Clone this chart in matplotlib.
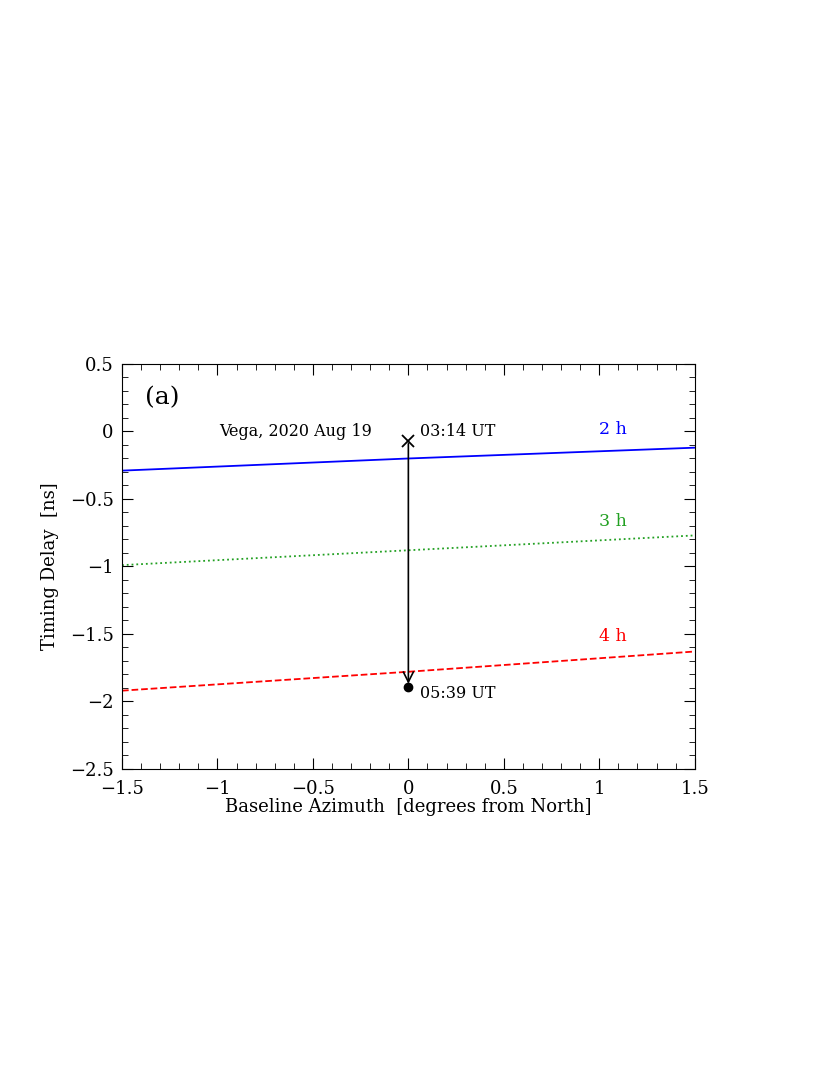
import numpy as np
import matplotlib
matplotlib.use("Agg")
import matplotlib.pyplot as plt
from matplotlib.ticker import MultipleLocator

plt.rcParams['font.family'] = ['DejaVu Serif']

# azimuth in degrees, delay in ns
azimuth = [-1.5, 0.0, 1.5]
delay_2h = [-0.29, -0.20, -0.12]
delay_3h = [-0.99, -0.88, -0.77]
delay_4h = [-1.92, -1.78, -1.63]
start_delay = -0.07
end_delay = -1.89

fig = plt.figure(figsize=(8.3, 10.75), dpi=100)
ax = fig.add_axes([0.147, 0.2847, 0.690, 0.3767])

ax.plot(azimuth, delay_2h, color='blue', lw=1.3)
ax.plot(azimuth, delay_3h, color='#22a022', lw=1.3, ls=':')
ax.plot(azimuth, delay_4h, color='red', lw=1.3, ls='--')

ax.text(1.0, -0.02, '2 h', color='blue', fontsize=12.5)
ax.text(1.0, -0.70, '3 h', color='#22a022', fontsize=12.5)
ax.text(1.0, -1.55, '4 h', color='red', fontsize=12.5)

ax.annotate('', xy=(0, end_delay), xytext=(0, start_delay),
            arrowprops=dict(arrowstyle='->', color='black', lw=1.2,
                            mutation_scale=18))
ax.plot([0], [start_delay], marker='x', color='black', ms=8, mew=1.3)
ax.plot([0], [end_delay], marker='o', color='black', ms=6)
ax.text(-0.99, -0.0, 'Vega, 2020 Aug 19', fontsize=11.5, va='center')
ax.text(0.06, -0.0, '03:14 UT', fontsize=11.5, va='center')
ax.text(0.06, -1.94, '05:39 UT', fontsize=11.5, va='center')
ax.text(-1.38, 0.2, '(a)', fontsize=18)

ax.set_xlim(-1.5, 1.5)
ax.set_ylim(-2.5, 0.5)
ax.xaxis.set_major_locator(MultipleLocator(0.5))
ax.xaxis.set_minor_locator(MultipleLocator(0.1))
ax.yaxis.set_major_locator(MultipleLocator(0.5))
ax.yaxis.set_minor_locator(MultipleLocator(0.1))
ax.tick_params(which='both', direction='in', top=True, right=True, labelsize=13)
ax.tick_params(which='major', length=8)
ax.tick_params(which='minor', length=4)
ax.tick_params(axis='x', pad=8)
ax.tick_params(axis='y', pad=6)
ax.xaxis.set_major_formatter(plt.FuncFormatter(lambda v, p: ('%g' % v).replace('-', '\u2212')))
ax.yaxis.set_major_formatter(plt.FuncFormatter(lambda v, p: ('%g' % v).replace('-', '\u2212')))

ax.set_xlabel('Baseline Azimuth  [degrees from North]', fontsize=13, labelpad=0)
ax.set_ylabel('Timing Delay  [ns]', fontsize=13, labelpad=8)

fig.savefig('out.png', dpi=100)
